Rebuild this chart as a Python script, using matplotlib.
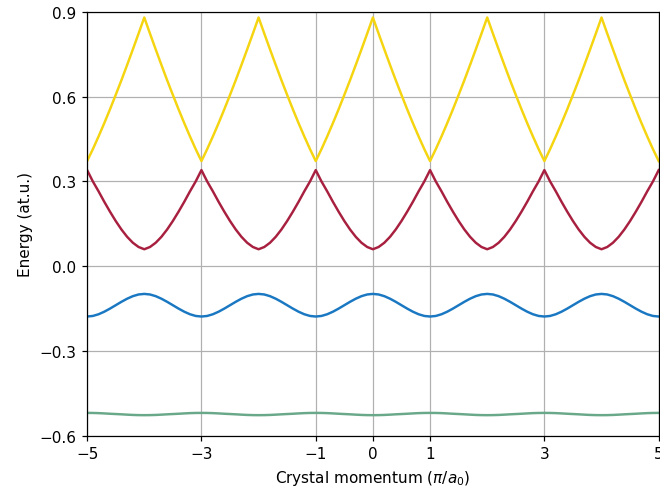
import numpy as np
import matplotlib.pyplot as plt

# one Brillouin zone, k in units of pi/a0
k_cell = [-1.0, -0.9, -0.8, -0.7, -0.6, -0.5, -0.4, -0.3, -0.2, -0.1, 0.0,
          0.1, 0.2, 0.3, 0.4, 0.5, 0.6, 0.7, 0.8, 0.9, 1.0]

band1 = [-0.519, -0.5192, -0.5198, -0.5208, -0.522, -0.523, -0.524, -0.5252, -0.5262, -0.5268, -0.527,
         -0.5268, -0.5262, -0.5252, -0.524, -0.523, -0.522, -0.5208, -0.5198, -0.5192, -0.519]
band2 = [-0.178, -0.176, -0.170, -0.161, -0.150, -0.138, -0.126, -0.115, -0.106, -0.100, -0.098,
         -0.100, -0.106, -0.115, -0.126, -0.138, -0.150, -0.161, -0.170, -0.176, -0.178]
band3 = [0.340, 0.300, 0.265, 0.228, 0.193, 0.160, 0.130, 0.104, 0.083, 0.068, 0.060,
         0.068, 0.083, 0.104, 0.130, 0.160, 0.193, 0.228, 0.265, 0.300, 0.340]
band4 = [0.372, 0.414, 0.459, 0.506, 0.555, 0.606, 0.658, 0.712, 0.767, 0.823, 0.880,
         0.823, 0.767, 0.712, 0.658, 0.606, 0.555, 0.506, 0.459, 0.414, 0.372]

zone_centres = [-4, -2, 0, 2, 4]
bands = [band1, band2, band3, band4]
colors = ['#6aa88a', '#1a78c2', '#a8203f', '#f5d410']

xticks = [-5, -3, -1, 0, 1, 3, 5]
yticks = [-0.6, -0.3, 0.0, 0.3, 0.6, 0.9]

fig = plt.figure(figsize=(6.0, 4.4818), dpi=110)
ax = fig.add_subplot(111)
fig.subplots_adjust(left=0.132, right=0.998, top=0.974, bottom=0.114)

kc = np.array(k_cell)
for band, col in zip(bands, colors):
    kk = np.concatenate([c + kc for c in zone_centres])
    ee = np.concatenate([np.array(band) for c in zone_centres])
    ax.plot(kk, ee, color=col, lw=1.6)

ax.set_xlim(-5, 5)
ax.set_ylim(-0.6, 0.9)
ax.set_xticks(xticks)
ax.set_yticks(yticks)
ax.set_yticklabels(['%.1f' % v if v >= 0 else '\u2212%.1f' % -v for v in yticks])
ax.grid(True, color='#b0b0b0', lw=0.8)
ax.set_axisbelow(True)
ax.set_xlabel(r'Crystal momentum ($\pi/a_0$)')
ax.set_ylabel('Energy (at.u.)')

fig.savefig('out.png', dpi=110)
